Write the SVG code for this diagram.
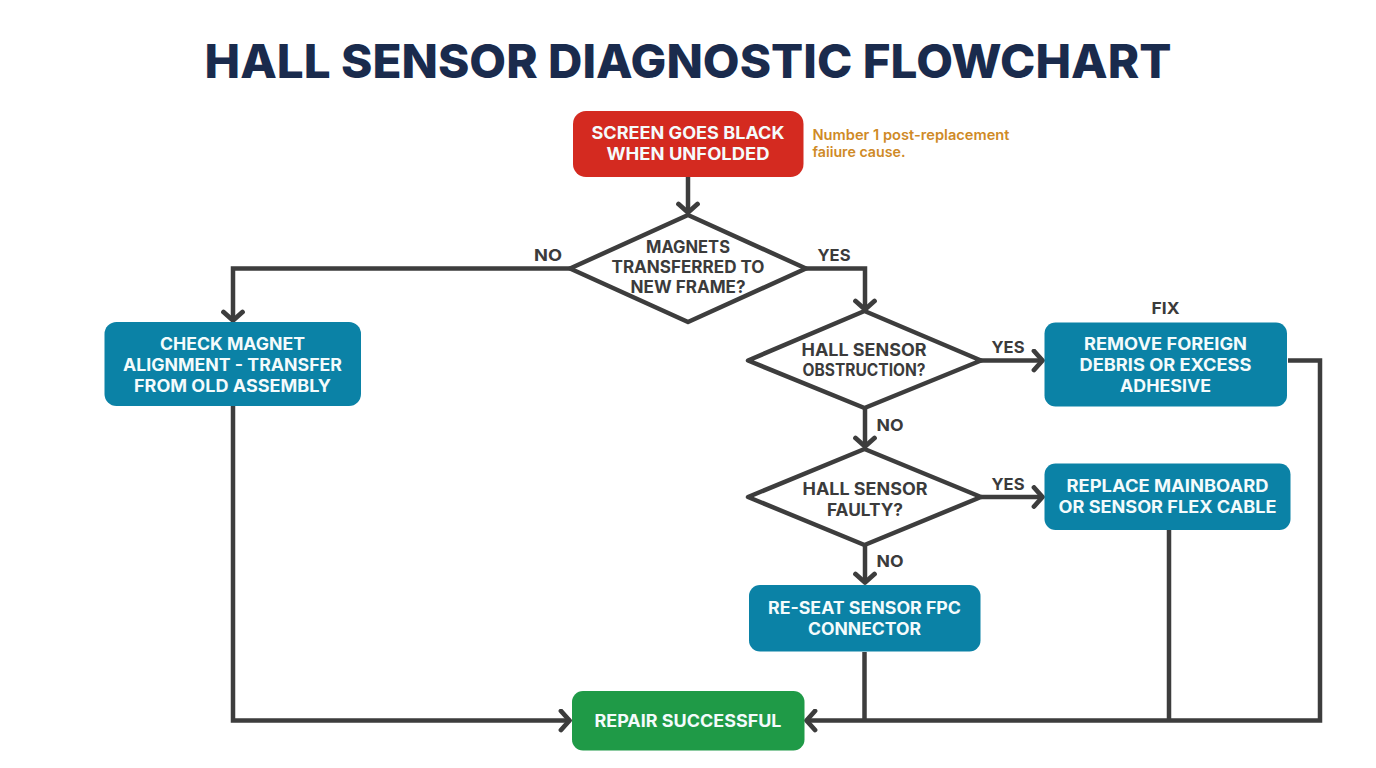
<svg xmlns="http://www.w3.org/2000/svg" width="1376" height="768" viewBox="0 0 1376 768">
<defs>
<marker id="arr" markerUnits="userSpaceOnUse" markerWidth="24" markerHeight="24" refX="19" refY="12" orient="auto">
<path d="M10 2.500 L18.500 12 L10 21.500" fill="none" stroke="#3d3d3d" stroke-width="4.800" stroke-linecap="round" stroke-linejoin="round"/>
</marker>
</defs>
<style>
text{font-family:"Inter","Liberation Sans",sans-serif;font-weight:700;text-anchor:middle}
.n{font-size:17px;fill:#f4fbfc}
.d{font-size:17px;fill:#3b3b3b}
.l{font-size:16.500px;fill:#3b3b3b}
.dia{fill:#fff;stroke:#3d3d3d;stroke-width:4.500;stroke-linejoin:round}
.c{fill:none;stroke:#3d3d3d;stroke-width:4.500;stroke-linejoin:miter}
.note{font-size:14px;fill:#cf8a26;font-weight:600;text-anchor:start}
</style>
<rect width="1376" height="768" fill="#fff"/>
<text x="688" y="78" font-size="47" fill="#1a2b4d" style="font-weight:800" textLength="967" lengthAdjust="spacingAndGlyphs">HALL SENSOR DIAGNOSTIC FLOWCHART</text>
<g id="connectors">
<path class="c" d="M688 177V213" marker-end="url(#arr)"/>
<path class="c" d="M570 268.500H233V321" marker-end="url(#arr)"/>
<path class="c" d="M806 268.500H865V310" marker-end="url(#arr)"/>
<path class="c" d="M981 360.500H1043" marker-end="url(#arr)"/>
<path class="c" d="M865 409V447" marker-end="url(#arr)"/>
<path class="c" d="M981 497H1043" marker-end="url(#arr)"/>
<path class="c" d="M865 545V583" marker-end="url(#arr)"/>
<path class="c" d="M233 406V720.500H570" marker-end="url(#arr)"/>
<path class="c" d="M1288 360.500H1320V720.500H806" marker-end="url(#arr)"/>
<path class="c" d="M864.500 652V720"/>
<path class="c" d="M1169 530V720"/>
</g>
<g id="node-start"><rect x="573" y="111" width="230.500" height="66" rx="13" fill="#d42a20"/>
<text class="n" x="688" y="139" textLength="193" lengthAdjust="spacingAndGlyphs">SCREEN GOES BLACK</text>
<text class="n" x="688" y="160" textLength="163" lengthAdjust="spacingAndGlyphs">WHEN UNFOLDED</text></g>
<g id="note"><text class="note" x="812.500" y="140" textLength="197" lengthAdjust="spacingAndGlyphs">Number 1 post-replacement</text>
<text class="note" x="812.500" y="157" textLength="93" lengthAdjust="spacingAndGlyphs">faiiure cause.</text></g>
<g id="node-magnets"><polygon class="dia" points="688,215 806,268.500 688,322 570,268.500"/>
<text class="d" x="688" y="253" textLength="84" lengthAdjust="spacingAndGlyphs">MAGNETS</text>
<text class="d" x="688" y="273" textLength="153" lengthAdjust="spacingAndGlyphs">TRANSFERRED TO</text>
<text class="d" x="688" y="292.500" textLength="115" lengthAdjust="spacingAndGlyphs">NEW FRAME?</text></g>
<g id="node-check"><rect x="104.500" y="322" width="256.500" height="84" rx="12" fill="#0b82a6"/>
<text class="n" x="232.500" y="349.500" textLength="145" lengthAdjust="spacingAndGlyphs">CHECK MAGNET</text>
<text class="n" x="232.500" y="370.500" textLength="219" lengthAdjust="spacingAndGlyphs">ALIGNMENT - TRANSFER</text>
<text class="n" x="232.500" y="391.500" textLength="197" lengthAdjust="spacingAndGlyphs">FROM OLD ASSEMBLY</text></g>
<g id="node-obstruction"><polygon class="dia" points="864.500,311 981,360.500 864.500,408 748,360.500"/>
<text class="d" x="864" y="356" textLength="125" lengthAdjust="spacingAndGlyphs">HALL SENSOR</text>
<text class="d" x="864" y="376" textLength="123" lengthAdjust="spacingAndGlyphs">OBSTRUCTION?</text></g>
<g id="node-remove"><rect x="1044.500" y="322.500" width="242.500" height="84" rx="11" fill="#0b82a6"/>
<text class="n" x="1165.500" y="350" textLength="163" lengthAdjust="spacingAndGlyphs">REMOVE FOREIGN</text>
<text class="n" x="1165.500" y="371" textLength="172" lengthAdjust="spacingAndGlyphs">DEBRIS OR EXCESS</text>
<text class="n" x="1165.500" y="392" textLength="91" lengthAdjust="spacingAndGlyphs">ADHESIVE</text></g>
<text class="l" x="1165.500" y="314" textLength="28" lengthAdjust="spacingAndGlyphs">FIX</text>
<g id="node-faulty"><polygon class="dia" points="864.500,449 981,497 864.500,545 748,497"/>
<text class="d" x="865" y="495" textLength="125" lengthAdjust="spacingAndGlyphs">HALL SENSOR</text>
<text class="d" x="865" y="515.500" textLength="76" lengthAdjust="spacingAndGlyphs">FAULTY?</text></g>
<g id="node-replace"><rect x="1044.500" y="463.500" width="246" height="66.500" rx="11" fill="#0b82a6"/>
<text class="n" x="1167.500" y="491.500" textLength="202" lengthAdjust="spacingAndGlyphs">REPLACE MAINBOARD</text>
<text class="n" x="1167.500" y="513" textLength="218" lengthAdjust="spacingAndGlyphs">OR SENSOR FLEX CABLE</text></g>
<g id="node-reseat"><rect x="749" y="585" width="231.500" height="66.500" rx="11" fill="#0b82a6"/>
<text class="n" x="864.500" y="614" textLength="193" lengthAdjust="spacingAndGlyphs">RE-SEAT SENSOR FPC</text>
<text class="n" x="864.500" y="635" textLength="113" lengthAdjust="spacingAndGlyphs">CONNECTOR</text></g>
<g id="node-success"><rect x="572" y="691" width="232.500" height="59.500" rx="11" fill="#1f9a47"/>
<text class="n" x="688" y="726.500" textLength="187" lengthAdjust="spacingAndGlyphs">REPAIR SUCCESSFUL</text></g>
<g id="labels">
<text class="l" x="548" y="261" textLength="28" lengthAdjust="spacingAndGlyphs">NO</text>
<text class="l" x="834" y="261" textLength="33" lengthAdjust="spacingAndGlyphs">YES</text>
<text class="l" x="1008" y="353" textLength="33" lengthAdjust="spacingAndGlyphs">YES</text>
<text class="l" x="890" y="431" textLength="27" lengthAdjust="spacingAndGlyphs">NO</text>
<text class="l" x="1008" y="490" textLength="33" lengthAdjust="spacingAndGlyphs">YES</text>
<text class="l" x="890" y="567" textLength="27" lengthAdjust="spacingAndGlyphs">NO</text>
</g>
</svg>
